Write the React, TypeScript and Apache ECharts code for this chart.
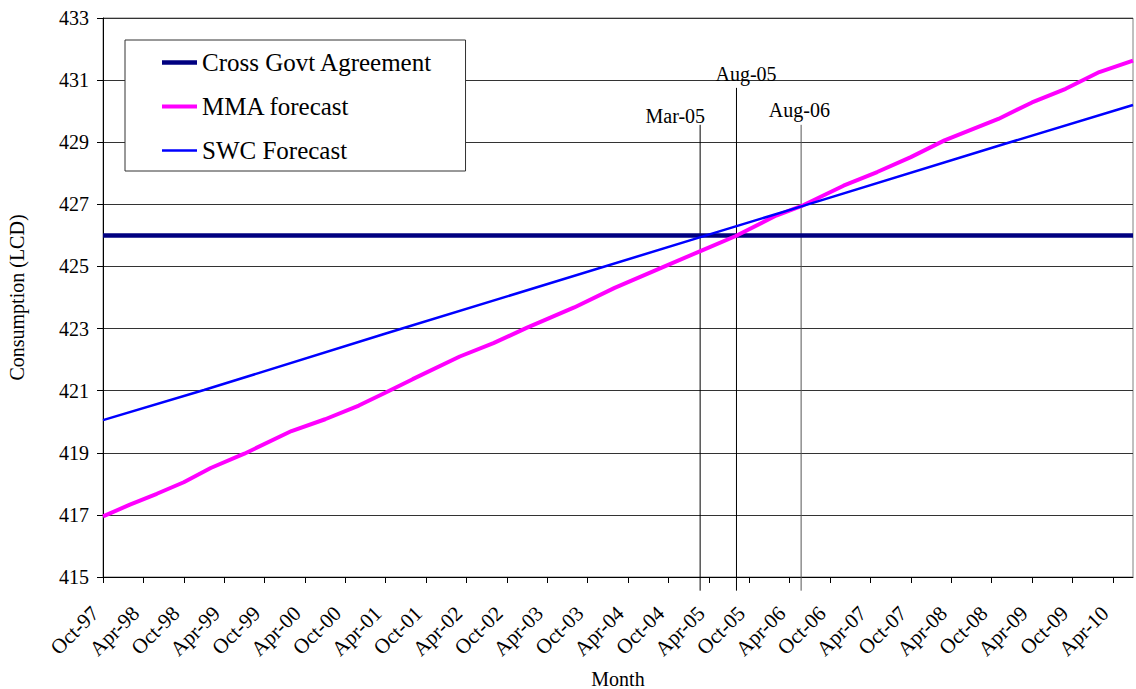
import React, { useEffect, useRef } from 'react';
import * as echarts from 'echarts';

// Month index 0 = Oct-97, 153 = Jul-10
const xTickLabels = [
  'Oct-97', 'Apr-98', 'Oct-98', 'Apr-99', 'Oct-99', 'Apr-00', 'Oct-00', 'Apr-01', 'Oct-01',
  'Apr-02', 'Oct-02', 'Apr-03', 'Oct-03', 'Apr-04', 'Oct-04', 'Apr-05', 'Oct-05', 'Apr-06',
  'Oct-06', 'Apr-07', 'Oct-07', 'Apr-08', 'Oct-08', 'Apr-09', 'Oct-09', 'Apr-10',
];
const xTickMonths = [
  0, 6, 12, 18, 24, 30, 36, 42, 48, 54, 60, 66, 72, 78, 84, 90, 96, 102, 108, 114, 120, 126,
  132, 138, 144, 150,
];
const yTicks = [415, 433, 2];

const crossGovtAgreement = [
  [0, 426], [153, 426],
];
const mmaForecast = [
  [0, 416.95], [4, 417.33], [8, 417.68], [12, 418.05], [16, 418.51], [21, 418.97],
  [28, 419.7], [33, 420.08], [38, 420.52], [42, 420.94], [46, 421.37], [53, 422.1],
  [58, 422.53], [63, 423.03], [70, 423.68], [76, 424.31], [83, 424.96], [89, 425.52],
  [94, 425.98], [100, 426.64], [104, 426.97], [110, 427.6], [115, 428.04], [120, 428.52],
  [125, 429.06], [133, 429.75], [138, 430.28], [143, 430.72], [148, 431.26], [153, 431.63],
];
const swcForecast = [
  [0, 420.05], [15, 421.02], [42, 422.84], [89, 425.96], [104, 426.95], [134, 428.95], [153, 430.2],
];

const markerNames = ['Mar-05', 'Aug-05', 'Aug-06'];
const markerMonths = [88.7, 94.1, 103.7];
const markerTops = [429.56, 430.75, 429.56];
const markerBottom = 414.56;

const FONT = '"Liberation Serif", "Times New Roman", serif';

export default function App() {
  const ref = useRef<HTMLDivElement>(null);

  useEffect(() => {
    if (!ref.current) return;
    const chart = echarts.init(ref.current, undefined, { renderer: 'svg' });

    const markerColors = ['#000000', '#000000', '#555555'];
    // label placement relative to the top end of each marker line
    const markerLabelAlign = ['right', 'center', 'center'];
    const markerLabelDx = [5, 9.5, -1.7];
    const markerLabelDy = [-9, -14, -15];

    const markerData = markerMonths.map((m, i) => [m, markerTops[i], i]);

    chart.setOption({
      animation: false,
      backgroundColor: '#ffffff',
      textStyle: { fontFamily: FONT },
      grid: {
        left: 103,
        top: 18,
        right: 3,
        bottom: 112,
        outerBoundsMode: 'none',
        containLabel: false,
        show: true,
        borderColor: '#808080',
        borderWidth: 1,
        backgroundColor: 'transparent',
      },
      legend: {
        data: [
          { name: 'Cross Govt Agreement', icon: 'path://M0,0H35V4.5H0Z', itemStyle: { color: '#000080' } },
          { name: 'MMA forecast', icon: 'path://M0,0H35V4H0Z', itemStyle: { color: '#FF00FF' } },
          { name: 'SWC Forecast', icon: 'path://M0,0H35V2.5H0Z', itemStyle: { color: '#0000FF' } },
        ],
        orient: 'vertical',
        left: 125,
        top: 40,
        padding: [10, 33, 8, 37],
        itemWidth: 35,
        itemHeight: 14,
        itemGap: 19,
        itemTextGap: 4,
        backgroundColor: '#ffffff',
        borderColor: '#333333',
        borderWidth: 1,
        textStyle: { fontFamily: FONT, fontSize: 25, color: '#000' },
      },
      xAxis: {
        type: 'value',
        min: 0,
        max: 153,
        name: 'Month',
        nameLocation: 'middle',
        nameGap: 92,
        nameMoveOverlap: false,
        nameTextStyle: { fontFamily: FONT, fontSize: 20, color: '#000' },
        axisLine: { show: true, lineStyle: { color: '#000', width: 1 } },
        axisTick: {
          show: true,
          length: 6,
          inside: false,
          lineStyle: { color: '#000' },
          customValues: xTickMonths,
        },
        axisLabel: {
          show: true,
          rotate: 45,
          margin: 25,
          padding: [0, 11, 0, 0],
          color: '#000',
          fontFamily: FONT,
          fontSize: 21,
          customValues: xTickMonths,
          formatter: (v: number) => {
            const i = xTickMonths.indexOf(Math.round(v));
            return i >= 0 ? xTickLabels[i] : '';
          },
        },
        splitLine: { show: false },
      },
      yAxis: {
        type: 'value',
        min: yTicks[0],
        max: yTicks[1],
        interval: yTicks[2],
        name: 'Consumption (LCD)',
        nameLocation: 'middle',
        nameGap: 76,
        nameMoveOverlap: false,
        nameTextStyle: { fontFamily: FONT, fontSize: 20, color: '#000' },
        axisLine: { show: true, lineStyle: { color: '#000', width: 1 } },
        axisTick: { show: true, length: 6, inside: false, lineStyle: { color: '#000' } },
        axisLabel: { margin: 14, color: '#000', fontFamily: FONT, fontSize: 20 },
        splitLine: { show: true, lineStyle: { color: '#333333', width: 1 } },
      },
      series: [
        {
          name: 'markers',
          type: 'custom',
          data: markerData,
          dimensions: ['month', 'top', 'idx'],
          encode: { x: 0, y: 1 },
          clip: false,
          silent: true,
          z: 2,
          renderItem: (params: any, api: any) => {
            const m = api.value(0);
            const top = api.value(1);
            const i = api.value(2);
            const pTop = api.coord([m, top]);
            const pBottom = api.coord([m, markerBottom]);
            return {
              type: 'group',
              children: [
                {
                  type: 'line',
                  shape: { x1: pBottom[0], y1: pBottom[1], x2: pTop[0], y2: pTop[1] },
                  style: { stroke: markerColors[i], lineWidth: 1 },
                },
                {
                  type: 'text',
                  x: pTop[0] + markerLabelDx[i],
                  y: pTop[1] + markerLabelDy[i],
                  style: {
                    text: markerNames[i],
                    fill: '#000',
                    fontFamily: FONT,
                    fontSize: 20,
                    align: markerLabelAlign[i],
                    verticalAlign: 'middle',
                  },
                },
              ],
            };
          },
        },
        {
          name: 'Cross Govt Agreement',
          type: 'line',
          data: crossGovtAgreement,
          showSymbol: false,
          symbol: 'none',
          lineStyle: { color: '#000080', width: 4.5 },
          itemStyle: { color: '#000080' },
          z: 3,
        },
        {
          name: 'MMA forecast',
          type: 'line',
          data: mmaForecast,
          showSymbol: false,
          symbol: 'none',
          lineStyle: { color: '#FF00FF', width: 4 },
          itemStyle: { color: '#FF00FF' },
          z: 4,
        },
        {
          name: 'SWC Forecast',
          type: 'line',
          data: swcForecast,
          showSymbol: false,
          symbol: 'none',
          lineStyle: { color: '#0000FF', width: 2.5 },
          itemStyle: { color: '#0000FF' },
          z: 5,
        },
      ],
    });

    return () => chart.dispose();
  }, []);

  return (
    <div
      ref={ref}
      style={{ position: 'fixed', left: 0, top: 0, width: 1136, height: 689, background: '#fff' }}
    />
  );
}
